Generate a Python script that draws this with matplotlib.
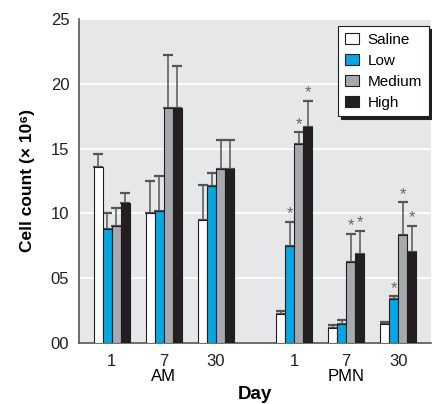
import matplotlib
matplotlib.use("Agg")
import matplotlib.pyplot as plt
import matplotlib.transforms as mtransforms
import numpy as np

plt.rcParams['font.family'] = ['Liberation Sans', 'DejaVu Sans']

days = ['1', '7', '30', '1', '7', '30']
cells = ['AM', 'PMN']
treatments = ['Saline', 'Low', 'Medium', 'High']

# mean cell count (x 10^6) per day, one list per treatment
saline = [13.6, 10.0, 9.5, 2.2, 1.15, 1.45]
low = [8.8, 10.2, 12.1, 7.45, 1.45, 3.4]
medium = [9.0, 18.1, 13.4, 15.35, 6.25, 8.35]
high = [10.8, 18.1, 13.4, 16.7, 6.85, 7.05]

saline_err = [1.0, 2.5, 2.7, 0.3, 0.2, 0.2]
low_err = [1.25, 2.7, 1.0, 1.9, 0.3, 0.2]
medium_err = [1.45, 4.1, 2.25, 0.9, 2.15, 2.5]
high_err = [0.8, 3.25, 2.25, 1.95, 1.8, 2.0]

# significance stars
saline_sig = [0, 0, 0, 0, 0, 0]
low_sig = [0, 0, 0, 1, 0, 1]
medium_sig = [0, 0, 0, 1, 1, 1]
high_sig = [0, 0, 0, 1, 1, 1]

colors = ['white', '#00a8e6', '#a7a9ac', '#231f20']

means = [saline, low, medium, high]
errs = [saline_err, low_err, medium_err, high_err]
sigs = [saline_sig, low_sig, medium_sig, high_sig]

centers = np.array([0, 1, 2, 3.5, 4.5, 5.5])
w = 0.173

fig = plt.figure(figsize=(4.32, 4.04), dpi=100)
ax = fig.add_axes([0.183, 0.151, 0.815, 0.802])
ax.set_facecolor('#e6e7e8')

for i in range(4):
    x = centers + (i - 1.5) * w
    ax.bar(x, means[i], w, color=colors[i], edgecolor='#231f20', linewidth=0.8,
           label=treatments[i], zorder=3)
    ax.errorbar(x, means[i], yerr=[np.zeros(6), errs[i]], fmt='none',
                ecolor='#555555', elinewidth=1.1, capsize=3.3, capthick=1.6, zorder=2)
    for j in range(6):
        if sigs[i][j]:
            ax.annotate('*', (x[j], means[i][j] + errs[i][j]), xytext=(0, 0.5),
                        textcoords='offset points', ha='center', va='bottom',
                        fontsize=12, color='#666666')

ax.set_ylim(0, 25)
ax.set_xlim(-0.63, 6.13)
ax.set_yticks([0, 5, 10, 15, 20, 25])
ax.set_yticklabels(['00', '05', '10', '15', '20', '25'])
ax.set_xticks(centers)
ax.set_xticklabels(days)
ax.tick_params(length=0, labelsize=12, colors='#231f20')
ax.tick_params(axis='y', pad=7)
ax.tick_params(axis='x', pad=8)
ax.yaxis.grid(True, color='white', linewidth=1.3, zorder=0)
ax.set_axisbelow(True)
for s in ['top', 'right']:
    ax.spines[s].set_visible(False)
for s in ['left', 'bottom']:
    ax.spines[s].set_color('#555555')
    ax.spines[s].set_linewidth(1.2)

trans = mtransforms.blended_transform_factory(ax.transData, ax.transAxes)
ax.text(1, -0.08, cells[0], transform=trans, ha='center', va='top', fontsize=12)
ax.text(4.5, -0.08, cells[1], transform=trans, ha='center', va='top', fontsize=12)

ax.set_xlabel('Day', fontsize=13.5, fontweight='bold', labelpad=12)
ax.set_ylabel('Cell count (× 10⁶)', fontsize=12.5, fontweight='bold', labelpad=11)

leg = ax.legend(loc='upper right', bbox_to_anchor=(0.994, 0.978), fontsize=11,
                frameon=True, fancybox=False, framealpha=1, edgecolor='#231f20',
                handlelength=0.9, handleheight=0.7, handletextpad=0.6,
                labelspacing=0.45, borderpad=0.45, borderaxespad=0,
                shadow={'color': '#231f20', 'alpha': 1})
leg.get_frame().set_linewidth(0.8)

fig.savefig('out.png', dpi=100)
